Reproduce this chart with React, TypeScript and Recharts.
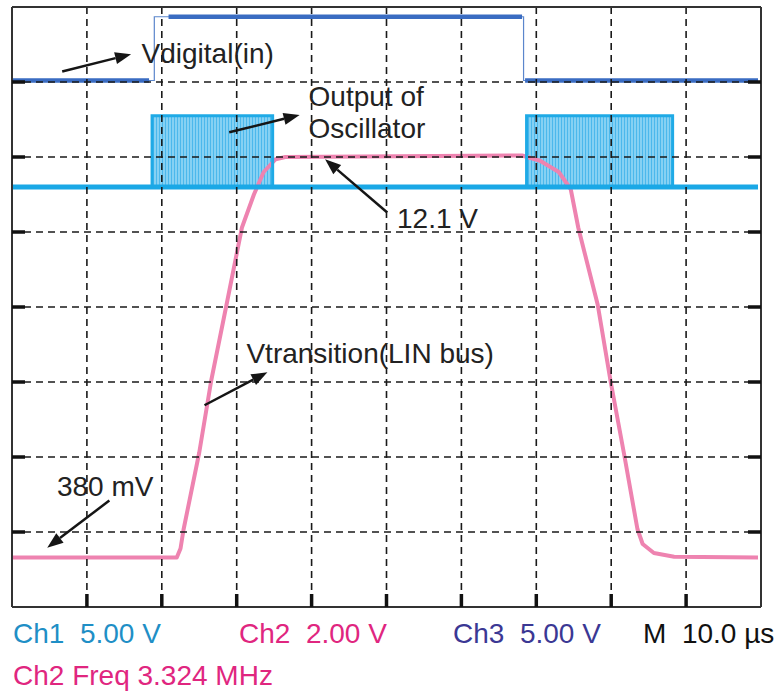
import React from 'react';
import { ComposedChart, Line, Area, XAxis, YAxis, CartesianGrid, ReferenceLine, ReferenceDot } from 'recharts';

// time in µs (M 10.0 µs/div), amplitude in screen divisions counted from the bottom
const timeTicks = [10, 20, 30, 40, 50, 60, 70, 80, 90];
const divTicks = [1, 2, 3, 4, 5, 6, 7];

// Ch3 - Vdigital(in)
const ch3Edges = [
  { t: 0, v: 7.02 }, { t: 19.0, v: 7.02 }, { t: 19.0, v: 7.87 },
  { t: 68.3, v: 7.87 }, { t: 68.3, v: 7.02 }, { t: 99.6, v: 7.02 },
];
const ch3Levels = [
  { t: 0, v: 7.02 }, { t: 18.3, v: 7.02 }, { t: 18.4, v: null },
  { t: 20.9, v: 7.87 }, { t: 68.1, v: 7.87 }, { t: 68.2, v: null },
  { t: 68.5, v: 7.02 }, { t: 99.6, v: 7.02 },
];

// Ch1 - output of oscillator (idle level + two bursts)
const ch1Base = [{ t: 0, v: 5.6 }, { t: 99.6, v: 5.6 }];
const burstA = [{ t: 18.7, band: [5.6, 6.55] }, { t: 34.8, band: [5.6, 6.55] }];
const burstB = [{ t: 68.7, band: [5.6, 6.55] }, { t: 88.2, band: [5.6, 6.55] }];
const burstAEdge = [{ t: 18.7, v: 5.6 }, { t: 18.7, v: 6.55 }, { t: 34.8, v: 6.55 }, { t: 34.8, v: 5.6 }];
const burstBEdge = [{ t: 68.7, v: 5.6 }, { t: 68.7, v: 6.55 }, { t: 88.2, v: 6.55 }, { t: 88.2, v: 5.6 }];

// Ch2 - Vtransition (LIN bus)
const ch2Trace = [
  { t: 0, v: 0.66 }, { t: 22.0, v: 0.66 }, { t: 22.5, v: 0.78 }, { t: 22.9, v: 1.03 },
  { t: 25.0, v: 2.06 }, { t: 26.6, v: 3.02 }, { t: 28.6, v: 4.01 }, { t: 30.7, v: 5.06 },
  { t: 32.3, v: 5.5 }, { t: 33.6, v: 5.8 }, { t: 35.2, v: 5.97 }, { t: 36.5, v: 6.0 },
  { t: 68.1, v: 6.02 }, { t: 70.5, v: 5.95 }, { t: 73.0, v: 5.8 }, { t: 74.6, v: 5.57 },
  { t: 75.6, v: 5.06 }, { t: 78.2, v: 4.03 }, { t: 79.9, v: 3.02 }, { t: 81.7, v: 2.05 },
  { t: 83.5, v: 1.04 }, { t: 84.2, v: 0.84 }, { t: 85.7, v: 0.72 }, { t: 88.4, v: 0.67 },
  { t: 99.6, v: 0.66 },
];

const notes = [
  { text: 'Vdigital(in)', t: 17.3, v: 7.26 },
  { text: 'Output of', t: 39.6, v: 6.68 },
  { text: 'Oscillator', t: 39.6, v: 6.25 },
  { text: '12.1 V', t: 51.4, v: 5.06 },
  { text: 'Vtransition(LIN bus)', t: 31.3, v: 3.25 },
  { text: '380 mV', t: 6.0, v: 1.48 },
];
const arrows = [
  { from: { x: 6.7, y: 7.14 }, to: { x: 15.9, y: 7.37 } },
  { from: { x: 29.0, y: 6.33 }, to: { x: 38.4, y: 6.56 } },
  { from: { x: 50.1, y: 5.26 }, to: { x: 41.8, y: 5.97 } },
  { from: { x: 25.7, y: 2.69 }, to: { x: 34.1, y: 3.13 } },
  { from: { x: 13.0, y: 1.42 }, to: { x: 4.7, y: 0.79 } },
];

const scaleLabels = [
  { text: 'Ch1  5.00 V', x: 13, y: 643, color: '#1f8fc6' },
  { text: 'Ch2  2.00 V', x: 239, y: 643, color: '#e0267f' },
  { text: 'Ch3  5.00 V', x: 453, y: 643, color: '#3b3894' },
  { text: 'M  10.0 µs', x: 643, y: 643, color: '#111' },
  { text: 'Ch2 Freq 3.324 MHz', x: 13, y: 685, color: '#e0267f' },
];

const FONT = '"Liberation Sans", Arial, sans-serif';

const ArrowShape = (p: any) => {
  const { x1, y1, x2, y2 } = p;
  const a = Math.atan2(y2 - y1, x2 - x1);
  const L = 16;
  const W = 6;
  const bx = x2 - L * Math.cos(a);
  const by = y2 - L * Math.sin(a);
  const lx = bx - W * Math.sin(a);
  const ly = by + W * Math.cos(a);
  const rx = bx + W * Math.sin(a);
  const ry = by - W * Math.cos(a);
  return (
    <g>
      <line x1={x1} y1={y1} x2={bx} y2={by} stroke="#151515" strokeWidth={2.5} />
      <polygon points={`${x2},${y2} ${lx},${ly} ${rx},${ry}`} fill="#151515" />
    </g>
  );
};

const noTick = () => <g />;
const frameLine = { stroke: '#333', strokeWidth: 2 };
const tickMark = { stroke: '#111', strokeWidth: 3.5 };

export default function App() {
  return (
    <div style={{ position: 'absolute', left: 0, top: 0, width: 780, height: 691, background: '#fff', fontFamily: FONT }}>
      <ComposedChart width={780} height={691} margin={{ top: 7, right: 19, bottom: 84, left: 12 }}>
        <defs>
          <pattern id="osc" width="3" height="20" patternUnits="userSpaceOnUse">
            <rect width="3" height="20" fill="#86d1f3" />
            <rect width="1" height="20" fill="#4cb8ec" />
          </pattern>
        </defs>
        <XAxis xAxisId={0} type="number" dataKey="t" domain={[0, 100]} ticks={timeTicks} allowDataOverflow
          height={1} mirror tickSize={13} tick={noTick} axisLine={frameLine} tickLine={tickMark} zIndex={1200} />
        <XAxis xAxisId="top" orientation="top" type="number" domain={[0, 100]} ticks={timeTicks} allowDataOverflow
          height={1} mirror tickSize={13} tick={noTick} axisLine={frameLine} tickLine={tickMark} zIndex={1200} />
        <YAxis yAxisId={0} type="number" domain={[0, 8]} ticks={divTicks} allowDataOverflow
          width={1} mirror tickSize={13} tick={noTick} axisLine={frameLine} tickLine={tickMark} zIndex={1200} />
        <YAxis yAxisId="right" orientation="right" type="number" domain={[0, 8]} ticks={divTicks} allowDataOverflow
          width={1} mirror tickSize={13} tick={noTick} axisLine={frameLine} tickLine={tickMark} zIndex={1200} />

        <Line data={ch2Trace} dataKey="v" stroke="#ee83b0" strokeWidth={4} dot={false} activeDot={false}
          isAnimationActive={false} strokeLinejoin="round" />

        <Area data={burstA} dataKey="band" stroke="none" fill="url(#osc)" fillOpacity={1} isAnimationActive={false} activeDot={false} />
        <Area data={burstB} dataKey="band" stroke="none" fill="url(#osc)" fillOpacity={1} isAnimationActive={false} activeDot={false} />
        <Line data={burstAEdge} dataKey="v" stroke="#1faae6" strokeWidth={3} dot={false} activeDot={false} isAnimationActive={false} />
        <Line data={burstBEdge} dataKey="v" stroke="#1faae6" strokeWidth={3} dot={false} activeDot={false} isAnimationActive={false} />
        <Line data={ch1Base} dataKey="v" stroke="#1aa8e6" strokeWidth={5} dot={false} activeDot={false} isAnimationActive={false} />

        <Line data={ch3Edges} dataKey="v" stroke="#5b86cc" strokeWidth={1.2} dot={false} activeDot={false} isAnimationActive={false} />
        <Line data={ch3Levels} dataKey="v" stroke="#3a6cc2" strokeWidth={4.5} dot={false} activeDot={false} isAnimationActive={false} />

        <CartesianGrid zIndex={1000} stroke="#1a1a1a" strokeWidth={1.6} strokeDasharray="7 5" />

        {arrows.map((a, i) => (
          <ReferenceLine key={`arrow-${i}`} segment={[a.from, a.to]} shape={ArrowShape} ifOverflow="visible" zIndex={1100} />
        ))}
        {notes.map((n) => (
          <ReferenceDot key={n.text} x={n.t} y={n.v} r={0} ifOverflow="visible" zIndex={1100}
            shape={(p: any) => (
              <text x={p.cx} y={p.cy} fill="#222" fontSize={28} fontFamily={FONT}>{n.text}</text>
            )} />
        ))}
      </ComposedChart>
      <svg width={780} height={691} style={{ position: 'absolute', left: 0, top: 0, pointerEvents: 'none' }}>
        {scaleLabels.map((s) => (
          <text key={s.text} x={s.x} y={s.y} fill={s.color} fontSize={28} fontFamily={FONT} style={{ whiteSpace: 'pre' }}>
            {s.text}
          </text>
        ))}
      </svg>
    </div>
  );
}
